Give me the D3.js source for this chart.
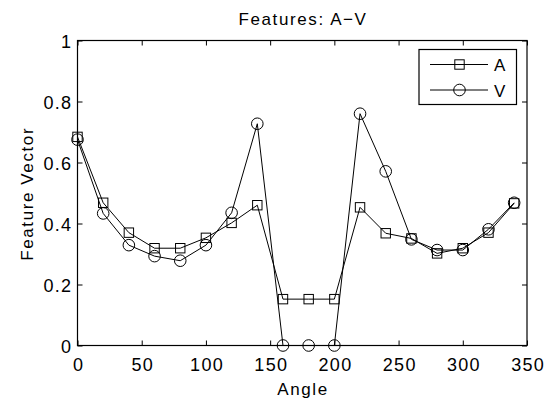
<!DOCTYPE html>
<html><head><meta charset="utf-8">
<script src="https://cdn.jsdelivr.net/npm/d3@7/dist/d3.min.js"></script>
<style>body{margin:0;background:#fff;} text{font-family:"Liberation Sans",Arial,Helvetica,sans-serif;}</style>
</head><body>
<svg id="c" width="550" height="401"></svg>
<script>
const angles = [0,20,40,60,80,100,120,140,160,180,200,220,240,260,280,300,320,340];
const seriesA = [0.684,0.468,0.370,0.319,0.319,0.353,0.402,0.460,0.152,0.152,0.152,0.453,0.368,0.351,0.302,0.319,0.370,0.466];
const seriesV = [0.675,0.433,0.329,0.293,0.278,0.329,0.435,0.727,0,0,0,0.760,0.571,0.348,0.313,0.313,0.381,0.468];
const xTicks = [0,50,100,150,200,250,300,350];
const yTicks = [0,0.2,0.4,0.6,0.8,1];
const yTickLabels = ["0","0.2","0.4","0.6","0.8","1"];
const legendNames = ["A","V"];

const svg = d3.select("#c");
const L=77.5, R=527, T=40.5, B=345.5;
const x = d3.scaleLinear().domain([0,350]).range([L,R]);
const y = d3.scaleLinear().domain([0,1]).range([B,T]);
const fs = 18, ls = 1.3, fl = 17, lsl = 1.6;

// axes box
svg.append("rect").attr("x",L).attr("y",T).attr("width",R-L).attr("height",B-T)
  .attr("fill","none").attr("stroke","#000").attr("stroke-width",1.2);

// ticks (inward, all sides)
const tl = 5;
const gb = svg.append("g").attr("transform",`translate(0,${B})`)
  .call(d3.axisBottom(x).tickValues(xTicks).tickSize(-tl).tickFormat(d3.format("d")));
const gt = svg.append("g").attr("transform",`translate(0,${T})`).call(d3.axisTop(x).tickValues(xTicks).tickSize(-tl).tickFormat(""));
const gl = svg.append("g").attr("transform",`translate(${L},0)`)
  .call(d3.axisLeft(y).tickValues(yTicks).tickSize(-tl).tickFormat((d,i)=>yTickLabels[i]));
const gr = svg.append("g").attr("transform",`translate(${R},0)`).call(d3.axisRight(y).tickValues(yTicks).tickSize(-tl).tickFormat(""));
[gb,gt,gl,gr].forEach(g=>{
  g.select(".domain").remove();
  g.selectAll("line").attr("stroke","#000");
  g.selectAll("text").attr("font-size",fs).attr("fill","#000")
    .style("font-family","Liberation Sans, Arial, sans-serif").style("letter-spacing",ls+"px");
});
gb.selectAll("text").attr("y",25).attr("dy",null).attr("dx",ls/2);
gl.selectAll("text").attr("x",-6.5+ls).attr("dy",null).attr("y",6.6);

// labels
svg.append("text").attr("x",(L+R)/2+lsl/2).attr("y",24.5).attr("text-anchor","middle").attr("font-size",fl)
  .style("letter-spacing",lsl+"px").text("Features: A\u2212V");
svg.append("text").attr("x",(L+R)/2+lsl/2).attr("y",395).attr("text-anchor","middle").attr("font-size",fl)
  .style("letter-spacing",lsl+"px").text("Angle");
svg.append("text").attr("transform",`translate(32.5,${(T+B)/2+lsl/2}) rotate(-90)`).attr("text-anchor","middle").attr("font-size",fl)
  .style("letter-spacing",lsl+"px").text("Feature Vector");

const line = d3.line().x((d,i)=>x(angles[i])).y(d=>y(d));
function drawSeries(vals, marker){
  svg.append("path").datum(vals).attr("d",line).attr("fill","none").attr("stroke","#000").attr("stroke-width",1);
  const g = svg.append("g");
  vals.forEach((v,i)=>drawMarker(g, x(angles[i]), y(v), marker));
}
function drawMarker(g,cx,cy,marker){
  if(marker==="s"){
    g.append("rect").attr("x",cx-4.7).attr("y",cy-4.7).attr("width",9.4).attr("height",9.4)
      .attr("fill","none").attr("stroke","#000").attr("stroke-width",1);
  } else {
    g.append("circle").attr("cx",cx).attr("cy",cy).attr("r",5.8)
      .attr("fill","none").attr("stroke","#000").attr("stroke-width",1);
  }
}
drawSeries(seriesA,"s");
drawSeries(seriesV,"o");

// legend
const lg = svg.append("g");
lg.append("rect").attr("x",419).attr("y",49.5).attr("width",97.5).attr("height",55)
  .attr("fill","#fff").attr("stroke","#000").attr("stroke-width",1.2);
legendNames.forEach((n,i)=>{
  const yy = 64.5 + i*25.5;
  lg.append("line").attr("x1",430).attr("x2",488).attr("y1",yy).attr("y2",yy).attr("stroke","#000");
  drawMarker(lg,459.5,yy,i===0?"s":"o");
  lg.append("text").attr("x",494).attr("y",yy+6.5).attr("font-size",fl).text(n);
});
</script>
</body></html>
